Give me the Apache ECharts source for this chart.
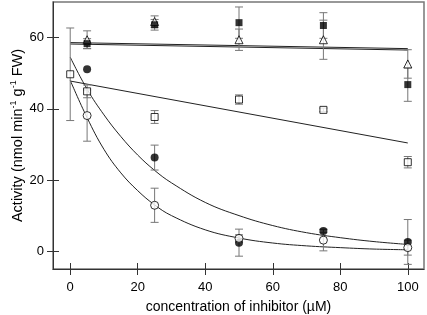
<!DOCTYPE html>
<html>
<head>
    <meta charset="utf-8"/>
    <title>inhibitor activity</title>
    <script src="https://cdn.jsdelivr.net/npm/echarts@6/dist/echarts.min.js"></script>
    <style>
        html, body { margin: 0; padding: 0; background: #fff; }
        #main { width: 427px; height: 315px; }
    </style>
</head>
<body>
<div id="main"></div>
<script>
    // 数据：浓度 / 平均值 / 误差
    var xTri = [5, 25, 50, 75, 100];
    var yTri = [59.4, 64.5, 59.4, 59.4, 52.6];
    var eTri = [2.5, 1.6, 3.0, 5.5, 4.0];

    var xSqF = [5, 25, 50, 75, 100];
    var ySqF = [58.3, 63.6, 64.2, 63.4, 46.8];
    var eSqF = [1.4, 1.5, 4.4, 3.6, 4.7];

    var xSqO = [0, 5, 25, 50, 75, 100];
    var ySqO = [49.7, 44.9, 37.7, 42.6, 39.7, 25.0];
    var eSqO = [13.0, 1.8, 1.8, 1.3, 0.5, 1.6];

    var xCiF = [5, 25, 50, 75, 100];
    var yCiF = [51.1, 26.3, 2.4, 5.7, 2.6];
    var eCiF = [0, 3.5, 3.8, 0.5, 6.3];

    var xCiO = [5, 25, 50, 75, 100];
    var yCiO = [38.1, 12.9, 3.6, 3.1, 1.0];
    var eCiO = [7.2, 4.8, 1.0, 3.0, 2.1];

    // 拟合线
    var xFlat = [0, 100];
    var fitTri = [58.6, 56.9];
    var fitSqF = [58.2, 56.5];
    var fitSqO = [47.8, 30.4];
    var xCurve = [0, 5, 10, 15, 20, 25, 30, 40, 50, 60, 70, 80, 90, 100];
    var fitCiF = [54.5, 45.5, 38.3, 32.2, 27.0, 22.7, 19.2, 13.7, 10.0, 7.2, 5.2, 3.8, 2.7, 1.9];
    var fitCiO = [48.0, 37.5, 28.6, 22.0, 17.0, 13.0, 10.0, 6.0, 3.7, 2.3, 1.5, 1.0, 0.6, 0.4];

    var xTicks = [0, 20, 40, 60, 80, 100];
    var yTicks = [0, 20, 40, 60];

    var font = "'Liberation Sans', Arial, sans-serif";

    function pairs(xs, ys) {
        var out = [];
        for (var i = 0; i < xs.length; i++) out.push([xs[i], ys[i]]);
        return out;
    }
    function errData(xs, ys, es) {
        var out = [];
        for (var i = 0; i < xs.length; i++) {
            if (es[i] > 0) out.push([xs[i], ys[i] - es[i], ys[i] + es[i]]);
        }
        return out;
    }

    function errSeries(xs, ys, es) {
        return {
            type: 'custom',
            z: 3,
            silent: true,
            data: errData(xs, ys, es),
            renderItem: function (params, api) {
                var lo = api.coord([api.value(0), api.value(1)]);
                var hi = api.coord([api.value(0), api.value(2)]);
                var w = 4;
                var st = { stroke: '#777', lineWidth: 1 };
                return {
                    type: 'group',
                    children: [
                        { type: 'line', shape: { x1: lo[0], y1: lo[1], x2: hi[0], y2: hi[1] }, style: st },
                        { type: 'line', shape: { x1: lo[0] - w, y1: lo[1], x2: lo[0] + w, y2: lo[1] }, style: st },
                        { type: 'line', shape: { x1: hi[0] - w, y1: hi[1], x2: hi[0] + w, y2: hi[1] }, style: st }
                    ]
                };
            }
        };
    }

    function fitLine(xs, ys) {
        return {
            type: 'line', z: 2, silent: true, showSymbol: false, smooth: xs.length > 2 ? 0.4 : false,
            data: pairs(xs, ys),
            lineStyle: { color: '#222', width: 1 }
        };
    }

    function pts(xs, ys, symbol, size, filled) {
        return {
            type: 'scatter', z: 4, symbol: symbol, symbolSize: size,
            data: pairs(xs, ys),
            itemStyle: filled ? { color: '#000' } : { color: '#fff', borderColor: '#000', borderWidth: 1 }
        };
    }

    var chart = echarts.init(document.getElementById('main'));
    var option = {
        animation: false,
        backgroundColor: '#fff',
        grid: {
            left: 53, right: 3, top: 2, bottom: 46, outerBoundsMode: 'none',
            show: true, borderColor: '#777', borderWidth: 1.5
        },
        xAxis: [{
            type: 'value', min: -5.1, max: 104.8,
            name: 'concentration of inhibitor (\u00b5M)', nameLocation: 'middle', nameGap: 31,
            nameTextStyle: { fontFamily: font, fontSize: 14, color: '#000' },
            axisLine: { show: true, onZero: false, lineStyle: { color: '#333', width: 1 } },
            axisTick: { show: true, inside: false, length: 6, customValues: xTicks, lineStyle: { color: '#333' } },
            axisLabel: { customValues: xTicks, margin: 12, fontFamily: font, fontSize: 13, color: '#000' },
            splitLine: { show: false }
        }, {
            type: 'value', min: -5.1, max: 104.8, position: 'bottom',
            axisLine: { show: false, onZero: false },
            axisTick: { show: true, inside: true, length: 6, customValues: xTicks, lineStyle: { color: '#333' } },
            axisLabel: { show: false },
            splitLine: { show: false }
        }],
        yAxis: [{
            type: 'value', min: -5, max: 70,
            name: 'Activity (nmol min{sup|-1} g{sup|-1} FW)', nameLocation: 'middle', nameGap: 26,
            nameMoveOverlap: false,
            nameTextStyle: {
                fontFamily: font, fontSize: 14.5, color: '#000', lineHeight: 18,
                rich: { sup: { fontFamily: font, fontSize: 9, color: '#000', verticalAlign: 'top', lineHeight: 18 } }
            },
            axisLine: { show: true, onZero: false, lineStyle: { color: '#333', width: 1 } },
            axisTick: { show: true, inside: false, length: 6, customValues: yTicks, lineStyle: { color: '#333' } },
            axisLabel: { customValues: yTicks, margin: 9, fontFamily: font, fontSize: 13, color: '#000' },
            splitLine: { show: false }
        }, {
            type: 'value', min: -5, max: 70, position: 'left', offset: 0,
            axisLine: { show: false, onZero: false },
            axisTick: { show: true, inside: true, length: 6, customValues: yTicks, lineStyle: { color: '#333' } },
            axisLabel: { show: false },
            splitLine: { show: false }
        }],
        series: [
            fitLine(xFlat, fitTri),
            fitLine(xFlat, fitSqF),
            fitLine(xFlat, fitSqO),
            fitLine(xCurve, fitCiF),
            fitLine(xCurve, fitCiO),
            errSeries(xSqO, ySqO, eSqO),
            errSeries(xTri, yTri, eTri),
            errSeries(xSqF, ySqF, eSqF),
            errSeries(xCiF, yCiF, eCiF),
            errSeries(xCiO, yCiO, eCiO),
            pts(xSqO, ySqO, 'rect', 7, false),
            pts(xTri, yTri, 'triangle', 8, false),
            pts(xSqF, ySqF, 'rect', 7, true),
            pts(xCiF, yCiF, 'circle', 8, true),
            pts(xCiO, yCiO, 'circle', 8, false)
        ]
    };
    chart.setOption(option);
</script>
</body>
</html>
